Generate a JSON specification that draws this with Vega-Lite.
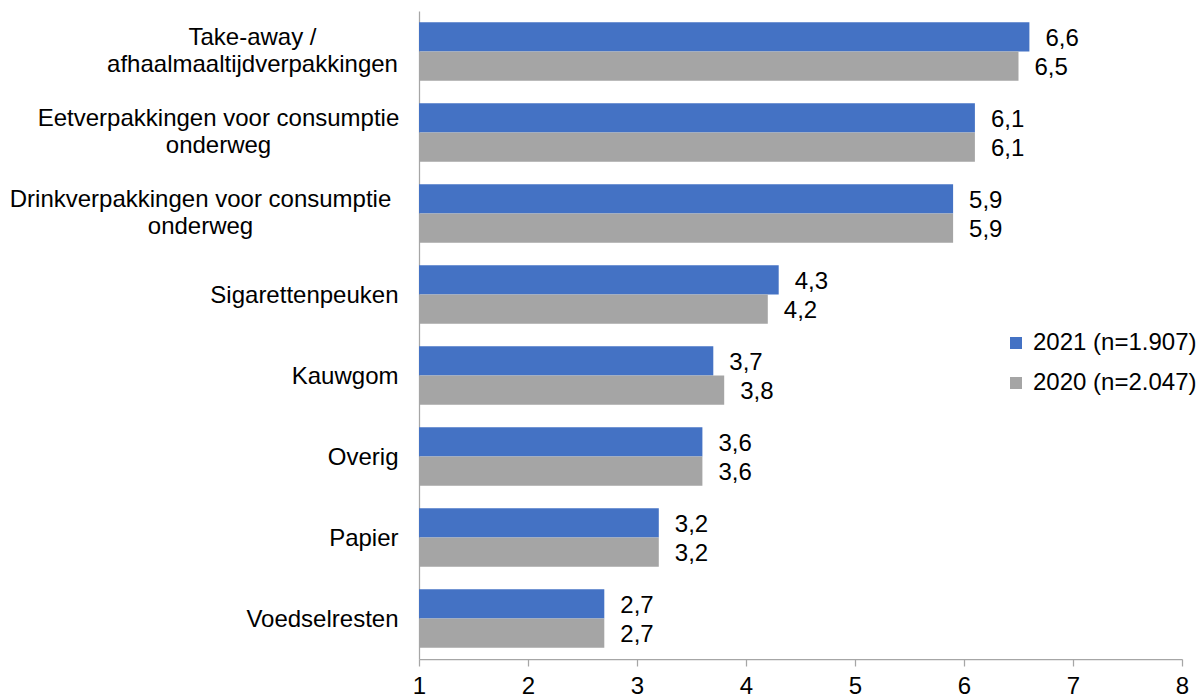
{
  "$schema": "https://vega.github.io/schema/vega-lite/v6.json",
  "width": 763,
  "height": 648,
  "autosize": {"type": "none"},
  "padding": {"left": 419, "top": 11, "right": 17, "bottom": 38},
  "config": {
    "view": {"stroke": null},
    "font": "Liberation Sans",
    "locale": {"number": {"decimal": ",", "thousands": ".", "grouping": [3], "currency": ["€", ""]}}
  },
  "data": {
    "values": [
      {"cat": "Take-away /|afhaalmaaltijdverpakkingen", "series": "2021 (n=1.907)", "value": 6.6},
      {"cat": "Take-away /|afhaalmaaltijdverpakkingen", "series": "2020 (n=2.047)", "value": 6.5},
      {"cat": "Eetverpakkingen voor consumptie|onderweg", "series": "2021 (n=1.907)", "value": 6.1},
      {"cat": "Eetverpakkingen voor consumptie|onderweg", "series": "2020 (n=2.047)", "value": 6.1},
      {"cat": "Drinkverpakkingen voor consumptie|onderweg", "series": "2021 (n=1.907)", "value": 5.9},
      {"cat": "Drinkverpakkingen voor consumptie|onderweg", "series": "2020 (n=2.047)", "value": 5.9},
      {"cat": "Sigarettenpeuken", "series": "2021 (n=1.907)", "value": 4.3},
      {"cat": "Sigarettenpeuken", "series": "2020 (n=2.047)", "value": 4.2},
      {"cat": "Kauwgom", "series": "2021 (n=1.907)", "value": 3.7},
      {"cat": "Kauwgom", "series": "2020 (n=2.047)", "value": 3.8},
      {"cat": "Overig", "series": "2021 (n=1.907)", "value": 3.6},
      {"cat": "Overig", "series": "2020 (n=2.047)", "value": 3.6},
      {"cat": "Papier", "series": "2021 (n=1.907)", "value": 3.2},
      {"cat": "Papier", "series": "2020 (n=2.047)", "value": 3.2},
      {"cat": "Voedselresten", "series": "2021 (n=1.907)", "value": 2.7},
      {"cat": "Voedselresten", "series": "2020 (n=2.047)", "value": 2.7}
    ]
  },
  "encoding": {
    "y": {
      "field": "cat",
      "type": "nominal",
      "sort": null,
      "scale": {"paddingInner": 0.275, "paddingOuter": 0.1375},
      "axis": {
        "title": null,
        "ticks": false,
        "tickSize": 0,
        "domainColor": "#A6A6A6",
        "domainWidth": 1.25,
        "labelFontSize": 24,
        "labelColor": "#000000",
        "labelLineHeight": 27,
        "labelLimit": 0,
        "labelOverlap": false,
        "labelBaseline": "middle",
        "labelExpr": "split(datum.value, '|')",
        "labelAlign": {"condition": {"test": "indexof(datum.value, '|') >= 0", "value": "center"}, "value": "right"},
        "labelOffset": {"condition": {"test": "indexof(datum.value, '|') >= 0", "value": -13.5}, "value": 1},
        "labelPadding": {
          "condition": [
            {"test": "indexof(datum.value, 'Take-away') >= 0", "value": 167},
            {"test": "indexof(datum.value, 'Eetverpakkingen') >= 0", "value": 201},
            {"test": "indexof(datum.value, 'Drinkverpakkingen') >= 0", "value": 219}
          ],
          "value": 21
        }
      }
    },
    "yOffset": {
      "field": "series",
      "type": "nominal",
      "sort": ["2021 (n=1.907)", "2020 (n=2.047)"],
      "scale": {"paddingInner": 0, "paddingOuter": 0}
    },
    "x": {
      "field": "value",
      "type": "quantitative",
      "scale": {"domain": [1, 8], "nice": false, "zero": false},
      "axis": {
        "title": null,
        "values": [1, 2, 3, 4, 5, 6, 7, 8],
        "format": "d",
        "grid": false,
        "tickSize": 7,
        "tickColor": "#A6A6A6",
        "domainColor": "#A6A6A6",
        "domainWidth": 1.25,
        "tickWidth": 1.25,
        "labelFontSize": 24,
        "labelColor": "#000000",
        "labelPadding": 8,
        "labelFlush": false,
        "labelOverlap": false,
        "labelBound": false
      }
    }
  },
  "layer": [
    {
      "mark": {"type": "bar"},
      "encoding": {
        "x2": {"datum": 1},
        "color": {
          "field": "series",
          "type": "nominal",
          "scale": {"domain": ["2021 (n=1.907)", "2020 (n=2.047)"], "range": ["#4472C4", "#A5A5A5"]},
          "legend": {
            "orient": "none",
            "legendX": 585,
            "legendY": 320,
            "title": null,
            "padding": 0,
            "symbolType": "square",
            "symbolSize": 144,
            "symbolStrokeWidth": 0,
            "labelFontSize": 24,
            "labelColor": "#000000",
            "labelOffset": 5,
            "rowPadding": 16,
            "labelLimit": 0
          }
        }
      }
    },
    {
      "mark": {"type": "text", "align": "left", "baseline": "middle", "dx": 16, "dy": 2, "fontSize": 24, "color": "#000000"},
      "encoding": {
        "text": {"field": "value", "type": "quantitative", "format": ".1f"}
      }
    }
  ]
}
